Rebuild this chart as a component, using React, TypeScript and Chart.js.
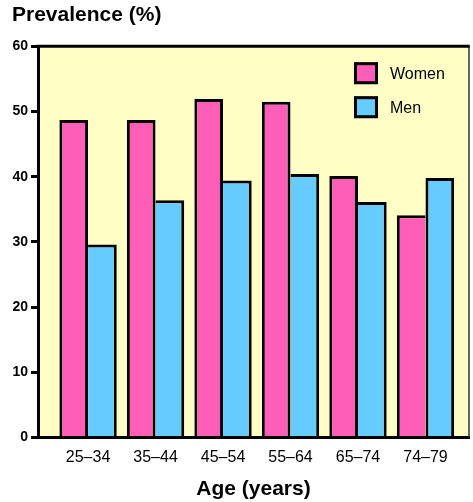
import React, { useEffect, useRef } from "react";
import { Chart, registerables } from "chart.js";

Chart.register(...registerables);

const ageGroups = ["25–34", "35–44", "45–54", "55–64", "65–74", "74–79"];
const women = [48.7, 48.7, 51.9, 51.5, 40.1, 34.1];
const men = [29.6, 36.4, 39.4, 40.4, 36.1, 39.8];
const yTicks = [0, 10, 20, 30, 40, 50, 60];
const seriesNames = ["Women", "Men"];

const PINK = "#FF5EB8";
const BLUE = "#66CCFF";
const BG = "#FFFFC5";
const FONT = "'Liberation Sans', Arial, Helvetica, sans-serif";

const framePlugin = {
  id: "frame",
  beforeDraw(chart: any) {
    const { ctx, chartArea: a } = chart;
    ctx.save();
    ctx.fillStyle = BG;
    ctx.fillRect(a.left, a.top, a.right - a.left, a.bottom - a.top);
    ctx.restore();
  },
  afterDraw(chart: any) {
    const { ctx, chartArea: a } = chart;
    ctx.save();
    ctx.strokeStyle = "#333";
    ctx.lineWidth = 1.5;
    ctx.beginPath();
    ctx.moveTo(a.right, a.top);
    ctx.lineTo(a.right, a.bottom);
    ctx.stroke();
    ctx.strokeStyle = "#000";
    ctx.lineWidth = 3;
    ctx.beginPath();
    ctx.moveTo(a.left - 1.5, a.top);
    ctx.lineTo(a.right + 0.75, a.top);
    ctx.stroke();
    const dsets = chart.data.datasets;
    const boxW = 24;
    const boxH = 22;
    const x0 = a.right - 115;
    dsets.forEach((ds: any, i: number) => {
      const y0 = a.top + 16 + i * 34;
      ctx.fillStyle = ds.backgroundColor;
      ctx.fillRect(x0, y0, boxW, boxH);
      ctx.strokeStyle = "#000";
      ctx.lineWidth = 3;
      ctx.strokeRect(x0 + 1.5, y0 + 1.5, boxW - 3, boxH - 3);
      ctx.fillStyle = "#000";
      ctx.font = `16px ${FONT}`;
      ctx.textBaseline = "middle";
      ctx.textAlign = "left";
      ctx.fillText(ds.label, x0 + 36, y0 + boxH / 2 + 1);
    });
    ctx.restore();
  },
};

export default function App() {
  const ref = useRef<HTMLCanvasElement | null>(null);
  useEffect(() => {
    if (!ref.current) return;
    Chart.defaults.font.family = FONT;
    Chart.defaults.color = "#000";
    const chart = new Chart(ref.current, {
      type: "bar",
      data: {
        datasets: [
          {
            label: seriesNames[0],
            data: women.map((v, i) => ({ x: i, y: v })),
            backgroundColor: PINK,
            borderColor: "#000",
            borderWidth: (c: any) => ({
              top: 3,
              left: 3,
              right: men[c.dataIndex] > women[c.dataIndex] ? 0 : 3,
              bottom: 0,
            }),
            borderSkipped: "start",
          },
          {
            label: seriesNames[1],
            data: men.map((v, i) => ({ x: i, y: v })),
            backgroundColor: BLUE,
            borderColor: "#000",
            borderWidth: (c: any) => ({
              top: 3,
              right: 3,
              left: men[c.dataIndex] > women[c.dataIndex] ? 3 : 0,
              bottom: 0,
            }),
            borderSkipped: "start",
          },
        ],
      } as any,
      options: {
        animation: false,
        responsive: false,
        categoryPercentage: 0.85,
        barPercentage: 1,
        layout: { padding: { left: 12, right: 4, top: 0, bottom: 0 } },
        plugins: {
          legend: { display: false },
          tooltip: { enabled: false },
          title: {
            display: true,
            text: "Prevalence (%)",
            align: "start",
            color: "#000",
            font: { size: 21, weight: "bold" },
            padding: { top: 3, bottom: 18 },
          },
        },
        scales: {
          x: {
            type: "linear",
            offset: false,
            min: -0.742,
            max: 5.645,
            afterBuildTicks: (axis: any) => {
              axis.ticks = ageGroups.map((_, i) => ({ value: i }));
            },
            ticks: {
              autoSkip: false,
              maxRotation: 0,
              color: "#000",
              font: { size: 16 },
              padding: 10,
              callback: (v: any) => ageGroups[v] ?? "",
            },
            grid: { display: true, offset: false, drawOnChartArea: false, drawTicks: false },
            border: { color: "#000", width: 3 },
            title: {
              display: true,
              text: "Age (years)",
              color: "#000",
              font: { size: 21, weight: "bold" },
              padding: { top: 0, bottom: 0 },
            },
          },
          y: {
            min: 0,
            max: 60,
            afterBuildTicks: (axis: any) => {
              axis.ticks = yTicks.map((v) => ({ value: v }));
            },
            afterFit: (s: any) => {
              s.width = 26;
            },
            ticks: {
              color: "#000",
              font: { size: 14, weight: "bold" },
              padding: 3,
            },
            grid: {
              display: true,
              drawOnChartArea: false,
              tickLength: 7,
              lineWidth: 3,
              color: "#000",
            },
            border: { color: "#000", width: 3 },
          },
        },
      } as any,
      plugins: [framePlugin],
    });
    return () => chart.destroy();
  }, []);
  return (
    <div style={{ position: "absolute", left: 0, top: 0, width: 473, height: 502, background: "#fff" }}>
      <canvas ref={ref} width={473} height={502} style={{ display: "block" }} />
    </div>
  );
}
